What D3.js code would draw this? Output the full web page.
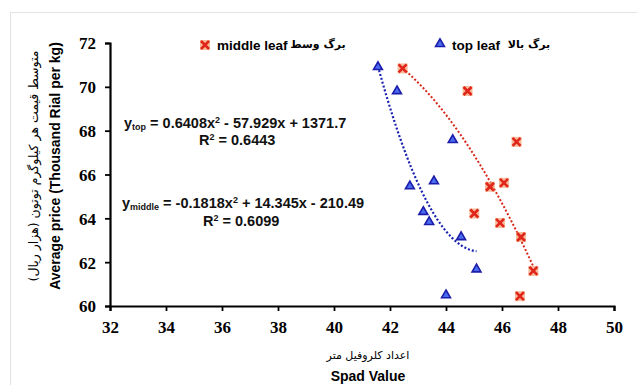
<!DOCTYPE html>
<html>
<head>
<meta charset="utf-8">
<script src="https://cdn.jsdelivr.net/npm/d3@7"></script>
<style>
  body { margin: 0; background: #fff; }
  .eq { font-family: "Liberation Sans", sans-serif; font-weight: bold; font-size: 14.5px; fill: #111; }
</style>
</head>
<body>
<div id="chart"></div>
<script>
// Spad value vs average price
var topX = [41.57, 42.25, 44.24, 43.57, 42.71, 43.19, 43.40, 44.54, 45.09, 44.00];
var topY = [70.86, 69.76, 67.53, 65.65, 65.42, 64.25, 63.79, 63.10, 61.63, 60.45];
var midX = [42.45, 44.77, 46.52, 46.07, 45.57, 45.01, 45.93, 46.68, 47.12, 46.64];
var midY = [70.84, 69.81, 67.49, 65.62, 65.44, 64.22, 63.79, 63.15, 61.60, 60.45];

// trendline coefficients as printed on the chart (a, b, c)
var topFit = [0.6408, -57.929, 1371.7];
var midFit = [-0.1818, 14.345, -210.49];

var xTicks = [32, 34, 36, 38, 40, 42, 44, 46, 48, 50];
var yTicks = [60, 62, 64, 66, 68, 70, 72];

var width = 637, height = 385;
var margin = {left: 110, right: 23, top: 43, bottom: 79};

var svg = d3.select("#chart").append("svg")
  .attr("width", width)
  .attr("height", height);

// faint picture border
svg.append("rect")
  .attr("x", 10.5).attr("y", 12.5)
  .attr("width", width).attr("height", height)
  .attr("fill", "none").attr("stroke", "#e2e2e2");

var x = d3.scaleLinear().domain([32, 50]).range([margin.left, width - margin.right]);
var y = d3.scaleLinear().domain([60, 72]).range([height - margin.bottom, margin.top]);

var xAxis = svg.append("g")
  .attr("transform", "translate(0," + y(60) + ")")
  .call(d3.axisBottom(x).tickValues(xTicks).tickSize(5).tickPadding(6));
var yAxis = svg.append("g")
  .attr("transform", "translate(" + x(32) + ",0)")
  .call(d3.axisLeft(y).tickValues(yTicks).tickSize(5).tickPadding(9));

[xAxis, yAxis].forEach(function(a) {
  a.select(".domain").attr("stroke", "#000").attr("stroke-width", 2.2);
  a.selectAll(".tick line").attr("stroke", "#000").attr("stroke-width", 1.8);
  a.selectAll(".tick text")
    .attr("fill", "#000")
    .style("font-family", "'Liberation Serif', 'DejaVu Serif', 'Times New Roman', serif")
    .style("font-size", "17px")
    .style("font-weight", "bold");
});
xAxis.selectAll(".tick text").attr("dy", "0.95em");
yAxis.selectAll(".tick text").attr("dy", "0.35em");

// trend lines
function fitLine(coef, xs) {
  var lo = d3.min(xs), hi = d3.max(xs);
  return d3.range(0, 41).map(function(i) {
    var v = lo + (hi - lo) * i / 40;
    return [v, coef[0] * v * v + coef[1] * v + coef[2]];
  });
}
var line = d3.line()
  .x(function(d) { return x(d[0]); })
  .y(function(d) { return y(d[1]); });

svg.append("path")
  .datum(fitLine(topFit, topX))
  .attr("d", line)
  .attr("fill", "none")
  .attr("stroke", "#1a22b0")
  .attr("stroke-width", 2.2)
  .attr("stroke-dasharray", "2,2");

svg.append("path")
  .datum(fitLine(midFit, midX))
  .attr("d", line)
  .attr("fill", "none")
  .attr("stroke", "#d8281c")
  .attr("stroke-width", 2)
  .attr("stroke-dasharray", "2,2");

// markers
var tri = d3.symbol().type(d3.symbolTriangle).size(34);
svg.selectAll(".top").data(d3.zip(topX, topY))
  .enter().append("path")
    .attr("class", "top")
    .attr("d", tri)
    .attr("transform", function(d) { return "translate(" + x(d[0]) + "," + (y(d[1]) - 1) + ")"; })
    .attr("fill", "#4a6cf0")
    .attr("stroke", "#1c1caa")
    .attr("stroke-width", 1.6);

function drawX(g) {
  g.append("rect")
    .attr("x", -5).attr("y", -5).attr("width", 10).attr("height", 10)
    .attr("fill", "#f3a070").attr("opacity", 0.7);
  g.append("path")
    .attr("d", "M-4,-4L4,4M-4,4L4,-4")
    .attr("stroke", "#e0251a")
    .attr("stroke-width", 2.6);
}
svg.selectAll(".mid").data(d3.zip(midX, midY))
  .enter().append("g")
    .attr("class", "mid")
    .attr("transform", function(d) { return "translate(" + x(d[0]) + "," + y(d[1]) + ")"; })
    .each(function() { drawX(d3.select(this)); });

// legend
var leg = svg.append("g").attr("font-family", "'Liberation Sans', sans-serif")
  .attr("font-weight", "bold").attr("font-size", 13.5);
var l1 = leg.append("g").attr("transform", "translate(205,45)");
drawX(l1);
l1.append("text").attr("x", 12).attr("dy", "0.35em").text("middle leaf");
l1.append("text").attr("x", 113).attr("dy", "0.3em").attr("text-anchor", "middle")
  .attr("font-family", "'DejaVu Sans', sans-serif").attr("font-size", 11).text("برگ وسط");
var l2 = leg.append("g").attr("transform", "translate(440,45)");
l2.append("path").attr("d", tri).attr("fill", "#4a6cf0").attr("stroke", "#1c1caa").attr("stroke-width", 1.6)
  .attr("transform", "translate(0,-1)");
l2.append("text").attr("x", 12).attr("dy", "0.35em").text("top leaf");
l2.append("text").attr("x", 89).attr("dy", "0.3em").attr("text-anchor", "middle")
  .attr("font-family", "'DejaVu Sans', sans-serif").attr("font-size", 11).text("برگ بالا");

// equations
var e1 = svg.append("text").attr("class", "eq").attr("x", 124).attr("y", 128);
e1.append("tspan").text("y");
e1.append("tspan").attr("font-size", 9).attr("dy", 2).text("top");
e1.append("tspan").attr("dy", -2).text(" = 0.6408x");
e1.append("tspan").attr("font-size", 9).attr("dy", -5).text("2");
e1.append("tspan").attr("dy", 5).text(" - 57.929x + 1371.7");
var r1 = svg.append("text").attr("class", "eq").attr("x", 199).attr("y", 145);
r1.append("tspan").text("R");
r1.append("tspan").attr("font-size", 9).attr("dy", -5).text("2");
r1.append("tspan").attr("dy", 5).text(" = 0.6443");

var e2 = svg.append("text").attr("class", "eq").attr("x", 122).attr("y", 208);
e2.append("tspan").text("y");
e2.append("tspan").attr("font-size", 9).attr("dy", 2).text("middle");
e2.append("tspan").attr("dy", -2).text(" = -0.1818x");
e2.append("tspan").attr("font-size", 9).attr("dy", -5).text("2");
e2.append("tspan").attr("dy", 5).text(" + 14.345x - 210.49");
var r2 = svg.append("text").attr("class", "eq").attr("x", 203).attr("y", 226);
r2.append("tspan").text("R");
r2.append("tspan").attr("font-size", 9).attr("dy", -5).text("2");
r2.append("tspan").attr("dy", 5).text(" = 0.6099");

// axis titles
svg.append("text")
  .attr("x", 368).attr("y", 359)
  .attr("text-anchor", "middle")
  .attr("font-family", "'DejaVu Sans', sans-serif").attr("font-size", 11)
  .text("اعداد کلروفیل متر");
svg.append("text")
  .attr("x", 368).attr("y", 381)
  .attr("text-anchor", "middle")
  .attr("font-family", "'Liberation Sans', sans-serif").attr("font-weight", "bold").attr("font-size", 14)
  .text("Spad Value");

svg.append("text")
  .attr("transform", "translate(60,166) rotate(-90)")
  .attr("text-anchor", "middle")
  .attr("font-family", "'Liberation Sans', sans-serif").attr("font-weight", "bold").attr("font-size", 14)
  .text("Average price (Thousand Rial per kg)");
svg.append("text")
  .attr("transform", "translate(38,166) rotate(-90)")
  .attr("text-anchor", "middle")
  .attr("font-family", "'DejaVu Sans', sans-serif").attr("font-size", 12.5)
  .text("متوسط قیمت هر کیلوگرم توتون (هزار ریال)");
</script>
</body>
</html>
